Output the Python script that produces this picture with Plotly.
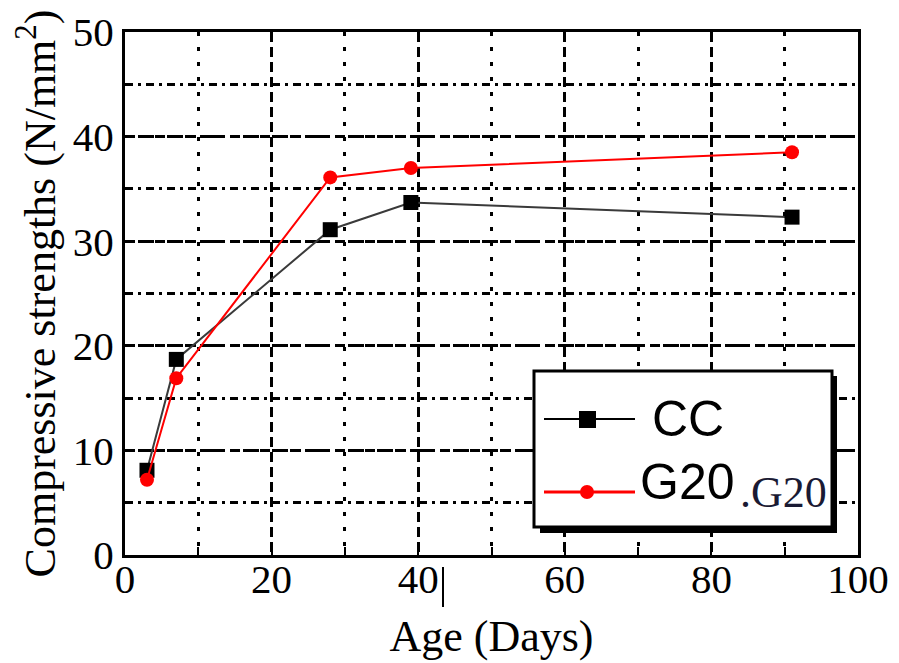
import plotly.graph_objects as go

# ---- data ----
age = [3, 7, 28, 39, 91]
cc = [8.1, 18.7, 31.1, 33.7, 32.3]
g20 = [7.2, 16.9, 36.1, 37.0, 38.5]
x_ticks = [0, 20, 40, 60, 80, 100]
y_ticks = [0, 10, 20, 30, 40, 50]
series_names = ["CC", "G20"]

W, H = 899, 663
L, R, T, B = 125, 858, 32, 555


def px(x):
    return (x - L) / (R - L)


def py(y):
    return (B - y) / (B - T)


fig = go.Figure()
fig.add_trace(go.Scatter(x=age, y=cc, mode="lines+markers", name=series_names[0],
                         line=dict(color="#3a3a3a", width=2),
                         marker=dict(symbol="square", size=15, color="black")))
fig.add_trace(go.Scatter(x=age, y=g20, mode="lines+markers", name=series_names[1],
                         line=dict(color="red", width=2),
                         marker=dict(symbol="circle", size=14, color="red")))

serif = "Liberation Serif"
tickfont = dict(family=serif, size=41, color="black")

fig.update_xaxes(range=[0, 100], tickvals=x_ticks, ticktext=[str(v) for v in x_ticks],
                 ticks="inside", ticklen=8, tickwidth=2, tickcolor="black",
                 showline=True, linewidth=3, linecolor="black", mirror=True,
                 showgrid=True, gridcolor="black", gridwidth=2.5, griddash="10px,5px",
                 zeroline=False, tickfont=tickfont, ticklabelstandoff=-14, automargin=False,
                 minor=dict(dtick=10, showgrid=True, gridcolor="black", gridwidth=2.5,
                            griddash="4px,11px", ticks="inside", ticklen=8, tickcolor="black"),
                 title=dict(text="Age (Days)", font=dict(family=serif, size=44, color="black"),
                            standoff=19))
fig.update_yaxes(range=[0, 50], tickvals=y_ticks, ticktext=[str(v) for v in y_ticks],
                 ticks="inside", ticklen=8, tickwidth=2, tickcolor="black",
                 showline=True, linewidth=3, linecolor="black", mirror=True,
                 showgrid=True, gridcolor="black", gridwidth=2.5, griddash="10px,5px",
                 zeroline=False, tickfont=tickfont, automargin=False,
                 minor=dict(dtick=5, showgrid=True, gridcolor="black", gridwidth=2.5,
                            griddash="8px,5px,3px,5px", ticks="inside", ticklen=8, tickcolor="black"),
                 title=dict(text="Compressive strengths (N/mm<sup>2</sup>)",
                            font=dict(family=serif, size=44, color="black"), standoff=4))

shapes = [
    # legend shadow and box
    dict(type="rect", xref="paper", yref="paper", x0=px(540), x1=px(837), y0=py(533), y1=py(376),
         fillcolor="black", line=dict(width=0)),
    dict(type="rect", xref="paper", yref="paper", x0=px(534), x1=px(832), y0=py(527), y1=py(371),
         fillcolor="white", line=dict(color="black", width=3)),
    # legend samples
    dict(type="line", xref="paper", yref="paper", x0=px(544), x1=px(635), y0=py(419), y1=py(419),
         line=dict(color="black", width=2)),
    dict(type="rect", xref="paper", yref="paper", x0=px(579), x1=px(596), y0=py(428), y1=py(411),
         fillcolor="black", line=dict(width=0)),
    dict(type="line", xref="paper", yref="paper", x0=px(544), x1=px(635), y0=py(492), y1=py(492),
         line=dict(color="red", width=3)),
    dict(type="circle", xref="paper", yref="paper", x0=px(580), x1=px(594), y0=py(499), y1=py(485),
         fillcolor="red", line=dict(width=0)),
    # stray mark next to "40"
    dict(type="line", xref="paper", yref="paper", x0=px(443), x1=px(443), y0=py(567), y1=py(607),
         line=dict(color="black", width=2)),
]

annotations = [
    dict(text="CC", xref="paper", yref="paper", x=px(650), y=py(419), xanchor="left", yanchor="middle",
         showarrow=False, font=dict(family="Liberation Sans", size=50, color="black")),
    dict(text="G20", xref="paper", yref="paper", x=px(638), y=py(482), xanchor="left", yanchor="middle",
         showarrow=False, font=dict(family="Liberation Sans", size=50, color="black")),
    dict(text=".G20", xref="paper", yref="paper", x=px(738), y=py(492), xanchor="left", yanchor="middle",
         showarrow=False, font=dict(family=serif, size=44, color="#1a1a33")),
]

fig.update_layout(width=W, height=H, margin=dict(l=L, r=W - R, t=T, b=H - B),
                  paper_bgcolor="white", plot_bgcolor="white", showlegend=False,
                  shapes=shapes, annotations=annotations)

fig.write_html("out.html")
